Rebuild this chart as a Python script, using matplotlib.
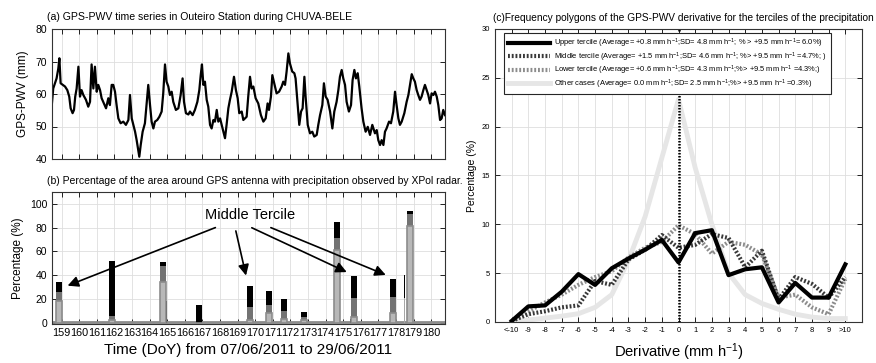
import numpy as np
import matplotlib
matplotlib.use('Agg')
import matplotlib.pyplot as plt

plt.rcParams['font.family'] = ['Liberation Sans', 'DejaVu Sans']
plt.rcParams['mathtext.fontset'] = 'custom'
plt.rcParams['mathtext.rm'] = 'Liberation Sans'
plt.rcParams['mathtext.it'] = 'Liberation Sans:italic'

############
### Data ###
############

# (a) GPS-PWV time series (day of year, mm)
pwvDay = [158.43, 158.52, 158.62, 158.71, 158.81, 158.87, 158.94, 159.06, 159.19, 159.32,
          159.43, 159.51, 159.62, 159.70, 159.77, 159.85, 159.95, 160.04, 160.13, 160.23,
          160.38, 160.51, 160.61, 160.70, 160.80, 160.89, 160.99, 161.08, 161.18, 161.27,
          161.40, 161.52, 161.65, 161.74, 161.84, 161.93, 162.03, 162.12, 162.22, 162.35,
          162.50, 162.65, 162.79, 162.88, 162.98, 163.07, 163.17, 163.26, 163.35, 163.41,
          163.49, 163.60, 163.73, 163.83, 163.92, 164.02, 164.11, 164.21, 164.30, 164.43,
          164.55, 164.68, 164.77, 164.87, 164.96, 165.06, 165.15, 165.25, 165.34, 165.49,
          165.63, 165.76, 165.87, 165.95, 166.06, 166.20, 166.29, 166.44, 166.57, 166.71,
          166.82, 166.90, 166.97, 167.05, 167.14, 167.24, 167.33, 167.43, 167.52, 167.62,
          167.71, 167.81, 167.90, 168.00, 168.09, 168.18, 168.28, 168.37, 168.47, 168.56,
          168.66, 168.79, 168.90, 169.00, 169.09, 169.23, 169.32,
          169.51, 169.60, 169.70, 169.79, 169.89, 170.02, 170.17, 170.32, 170.46, 170.59,
          170.70, 170.78, 170.89, 170.97, 171.08, 171.21, 171.35, 171.50, 171.59, 171.69,
          171.78, 171.88, 171.97, 172.10, 172.22, 172.29, 172.41, 172.50, 172.60, 172.69,
          172.79, 172.86, 172.98, 173.11, 173.24, 173.35, 173.49, 173.58, 173.68, 173.81,
          173.90, 174.00, 174.11, 174.25, 174.38, 174.49, 174.62, 174.72, 174.81, 174.91,
          175.00, 175.10, 175.19, 175.32, 175.44, 175.53, 175.63, 175.72, 175.82, 175.91,
          176.04, 176.14, 176.27, 176.39, 176.52, 176.65, 176.80, 176.90, 176.99, 177.09,
          177.18, 177.28, 177.37, 177.46, 177.60, 177.71, 177.84, 177.94, 178.03, 178.13,
          178.22, 178.32, 178.47, 178.60, 178.70, 178.79, 178.89, 178.98, 179.07, 179.17,
          179.26, 179.36, 179.45, 179.55, 179.64, 179.74, 179.83, 179.93, 180.02, 180.12,
          180.21, 180.31, 180.40, 180.50, 180.59, 180.68, 180.78]
pwvVal = [56.1, 61.7, 63.3, 64.8, 67.9, 71.0, 63.3, 62.8, 62.3, 61.2,
          59.2, 55.6, 54.1, 55.1, 59.2, 61.7, 68.4, 59.2, 61.2, 59.7,
          58.2, 56.1, 57.6, 69.1, 61.7, 68.4, 60.7, 62.8, 61.2, 58.7,
          57.1, 55.6, 58.7, 56.6, 62.8, 62.8, 60.7, 56.6, 52.5, 51.0,
          51.5, 50.5, 52.0, 59.7, 52.5, 50.5, 48.4, 45.8, 42.8, 40.7,
          44.3, 48.4, 51.0, 57.1, 62.8, 56.6, 51.5, 49.4, 51.5, 52.0,
          53.0, 54.6, 60.2, 69.1, 63.8, 62.3, 59.7, 60.7, 57.6, 55.1,
          55.6, 59.7, 64.8, 57.6, 54.1, 53.7, 54.6, 53.5, 55.1, 57.6,
          61.2, 65.8, 69.1, 62.8, 63.8, 58.2, 56.1, 50.5, 49.4, 52.0,
          51.5, 55.1, 51.5, 52.5, 50.5, 48.4, 46.4, 50.5, 55.6, 58.2,
          60.7, 65.3, 61.2, 58.7, 54.1, 54.6, 52.0,
          53.0, 59.2, 65.3, 61.7, 62.3, 58.7, 57.1, 53.5, 51.5, 52.5,
          57.1, 55.1, 59.2, 65.8, 63.3, 60.2, 60.7, 62.3, 63.8, 62.8,
          66.9, 72.5, 69.4, 66.9, 66.4, 64.8, 56.6, 50.5, 54.6, 55.6,
          65.3, 59.2, 50.5, 47.9, 48.4, 46.9, 47.4, 50.5, 53.5, 56.6,
          63.3, 59.2, 58.2, 54.6, 49.4, 54.6, 57.6, 61.2, 65.3, 67.4,
          64.8, 62.8, 57.6, 54.6, 56.6, 64.3, 67.4, 64.8, 66.4, 62.3,
          55.6, 51.5, 48.4, 49.9, 47.4, 50.5, 47.9, 48.9, 45.8, 44.3,
          45.8, 44.3, 48.4, 49.4, 51.5, 51.0, 54.6, 60.7, 56.6, 52.5,
          50.5, 51.5, 54.1, 57.6, 59.7, 62.8, 66.1, 64.8, 63.8, 61.2,
          59.7, 58.2, 59.2, 61.2, 62.8, 61.2, 59.7, 57.1, 60.2, 59.7,
          60.7, 59.2, 56.6, 52.0, 52.5, 55.1, 53.5]

# (b) precipitation area events (day of year, %)
rainDay = [158.85, 161.84, 164.76, 166.80, 169.72, 170.80, 171.65, 172.78, 174.67, 175.62, 177.83, 178.79]
rainUpper = [34, 52, 51, 15, 31, 27, 20, 9.3, 85, 39, 36.5, 94]
rainMiddle = [26, 5.6, 48, 0, 13, 15, 10, 5, 71, 20.5, 22, 91.6]
rainLower = [18.5, 2, 34.5, 0, 2, 8, 3, 2, 61, 5, 8, 81]
sliverDay = [164.95, 175.42, 178.50]
sliverUpper = [18, 3, 40]
sliverLower = [0, 0, 21]
baselinePct = 1.0
dayTicks = list(range(159, 181))

# arrows from the "Middle Tercile" note (tail day, tail %, head day, head %)
arrowTail = [(167.88, 80.9), (168.86, 79.5), (169.66, 80.9), (170.74, 80.9)]
arrowHead = [(159.19, 30.3), (169.51, 37.4), (175.34, 41.6), (177.56, 39.3)]

# (c) frequency polygons
derivBins = list(range(-10, 11))
derivLabels = ['<-10'] + [str(v) for v in range(-9, 10)] + ['>10']
freqUpper = [0.1, 1.6, 1.7, 3.1, 4.9, 3.8, 5.5, 6.5, 7.4, 8.4, 6.1, 9.1, 9.4, 4.8, 5.4, 5.6, 2.0, 4.0, 2.5, 2.5, 5.9]
freqMiddle = [0.1, 0.8, 1.1, 1.5, 1.7, 4.2, 3.8, 6.4, 7.4, 8.9, 7.6, 7.9, 9.0, 8.6, 5.6, 7.3, 2.3, 4.6, 3.9, 2.5, 4.6]
freqLower = [0.1, 1.1, 2.0, 2.8, 3.8, 4.6, 5.2, 6.6, 7.6, 8.2, 9.9, 9.0, 7.0, 8.2, 7.9, 6.9, 2.5, 2.8, 1.5, 0.8, 4.4]
freqOther = [0.05, 0.2, 0.4, 0.6, 0.85, 1.5, 2.8, 6.3, 10.8, 16.8, 22.8, 15.8, 10.0, 5.0, 2.8, 1.9, 1.3, 0.8, 0.5, 0.35, 0.35]

labelUpper = r'Upper tercile (Average= +0.8 mm h$^{-1}$;SD= 4.8 mm h$^{-1}$; % > +9.5 mm h$^{-1}$= 6.0%)'
labelMiddle = r'Middle tercile (Average= +1.5 mm h$^{-1}$;SD= 4.6 mm h$^{-1}$; %> +9.5 mm h$^{-1}$ =4.7%; )'
labelLower = r'Lower tercile (Average= +0.6 mm h$^{-1}$;SD= 4.3 mm h$^{-1}$;%> +9.5 mm h$^{-1}$ =4.3%;)'
labelOther = r'Other cases (Average= 0.0 mm h$^{-1}$;SD= 2.5 mm h$^{-1}$;%> +9.5 mm h$^{-1}$ =0.3%)'

##############
### Layout ###
##############

W, H = 876, 363
fig = plt.figure(figsize=(W / 100, H / 100), dpi=100)
axA = fig.add_axes([52 / W, 1 - 159 / H, 393 / W, 130 / H])
axB = fig.add_axes([52 / W, 1 - 324 / H, 393 / W, 132 / H])
axC = fig.add_axes([495 / W, 1 - 322 / H, 367 / W, 293 / H])


def matlabStyle(ax, size):
  ax.tick_params(direction='in', top=True, right=True, length=3.5, width=0.6,
                 labelsize=size, colors='k')
  ax.grid(True, color='0.87', lw=0.6)
  ax.set_axisbelow(True)
  for s in ax.spines.values():
    s.set_linewidth(0.8)
    s.set_color('0.2')


xlimDays = (158.45, 180.78)

# (a)
matlabStyle(axA, 7.5)
axA.plot(pwvDay, pwvVal, color='k', lw=1.6)
axA.set_xlim(xlimDays)
axA.set_ylim(40, 80)
axA.set_yticks([40, 50, 60, 70, 80])
axA.set_xticks(dayTicks)
axA.set_xticklabels([])
axA.set_ylabel('GPS-PWV (mm)', fontsize=8.5)
axA.yaxis.set_label_coords(-0.058, 0.5)
axA.text(-0.013, 1 + 12 / 130, '(a) GPS-PWV time series in Outeiro Station during CHUVA-BELE',
         transform=axA.transAxes, fontsize=7.6, va='center', ha='left')

# (b)
matlabStyle(axB, 7.5)
axB.tick_params(axis='x', labelsize=7.8, pad=3)
axB.plot(xlimDays, [baselinePct, baselinePct], color='0.55', lw=2, zorder=2)
barW = 0.34
axB.bar(rainDay, rainUpper, width=barW, color='k', zorder=3)
axB.bar(rainDay, rainMiddle, width=barW, color='0.45', zorder=4)
axB.bar(rainDay, rainLower, width=barW, color='0.72', edgecolor='0.55', lw=1.2, zorder=5)
axB.bar(sliverDay, sliverUpper, width=0.05, color='k', zorder=3)
axB.bar(sliverDay, sliverLower, width=0.05, color='0.65', zorder=4)
for (tx, ty), (hx, hy) in zip(arrowTail, arrowHead):
  axB.annotate('', xy=(hx, hy), xytext=(tx, ty),
               arrowprops=dict(arrowstyle='-|>', color='k', lw=1.2, mutation_scale=16),
               zorder=6)
axB.text(169.7, 90.7, 'Middle Tercile', fontsize=10.5, ha='center', va='center', zorder=7)
axB.set_xlim(xlimDays)
axB.set_ylim(-1.1, 110)
axB.set_yticks([0, 20, 40, 60, 80, 100])
axB.set_xticks(dayTicks)
axB.set_xticklabels([str(d) for d in dayTicks])
axB.set_ylabel('Percentage (%)', fontsize=8.5)
axB.yaxis.set_label_coords(-0.071, 0.5)
axB.set_xlabel('Time (DoY) from 07/06/2011 to 29/06/2011', fontsize=11)
axB.xaxis.set_label_coords(0.5, -0.145)
axB.text(-0.013, 1 + 11 / 132,
         '(b) Percentage of the area around GPS antenna with precipitation observed by XPol radar.',
         transform=axB.transAxes, fontsize=7.5, va='center', ha='left')

# (c)
matlabStyle(axC, 5.5)
axC.plot(derivBins, freqOther, color='0.9', lw=3.5, label=labelOther, zorder=2)
axC.plot(derivBins, freqLower, color='0.55', lw=3, ls=(0, (0.45, 0.45)), label=labelLower, zorder=3)
axC.plot(derivBins, freqMiddle, color='0.22', lw=3, ls=(0, (0.45, 0.45)), label=labelMiddle, zorder=4)
axC.plot(derivBins, freqUpper, color='k', lw=3, label=labelUpper, zorder=5)
axC.axvline(0, color='k', lw=1.8, ls=(0, (0.6, 0.6)), zorder=6)
axC.set_xlim(-11, 11)
axC.set_ylim(0, 30)
axC.set_yticks([0, 5, 10, 15, 20, 25, 30])
axC.set_xticks(derivBins)
axC.set_xticklabels(derivLabels)
axC.set_ylabel('Percentage (%)', fontsize=7.5)
axC.yaxis.set_label_coords(-0.049, 0.5)
axC.set_xlabel('Derivative (mm h$^{-1}$)', fontsize=10.6)
axC.xaxis.set_label_coords(0.5, -0.065)
axC.text(-0.005, 1 + 11 / 293,
         '(c)Frequency polygons of the GPS-PWV derivative for the terciles of the precipitation',
         transform=axC.transAxes, fontsize=7.3, va='center', ha='left')

handles, labels = axC.get_legend_handles_labels()
order = [3, 2, 1, 0]
leg = axC.legend([handles[i] for i in order], [labels[i] for i in order],
                 loc='upper left', bbox_to_anchor=(0.0245, 0.986), fontsize=5.4,
                 handlelength=5.6, labelspacing=0.02, borderpad=0.5, handletextpad=0.6,
                 borderaxespad=0, fancybox=False, framealpha=1)
leg.get_frame().set_edgecolor('0.15')
leg.get_frame().set_linewidth(0.8)
leg.set_zorder(10)

fig.savefig('out.png', dpi=100)
